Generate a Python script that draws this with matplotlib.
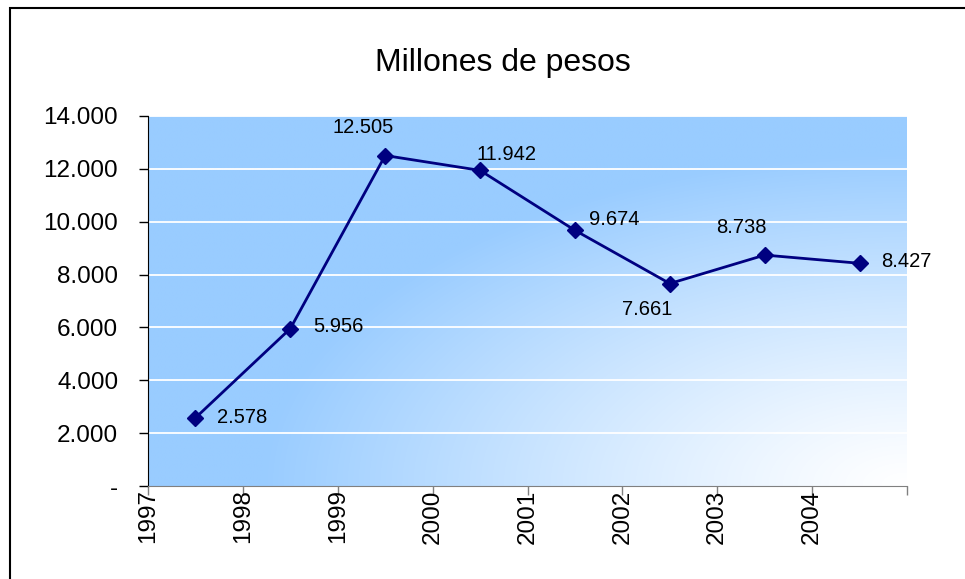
import numpy as np
import matplotlib.pyplot as plt
from matplotlib.patches import Rectangle
from matplotlib.colors import to_rgb

plt.rcParams['font.family'] = ['Liberation Sans', 'DejaVu Sans']

years = ['1997', '1998', '1999', '2000', '2001', '2002', '2003', '2004']
millones = [2578, 5956, 12505, 11942, 9674, 7661, 8738, 8427]
label_text = ['2.578', '5.956', '12.505', '11.942', '9.674', '7.661', '8.738', '8.427']
# label offsets in pixels (dx, dy) and horizontal alignment
label_pos = [(22, 0, 'left'), (23, 2, 'left'), (-22, 28, 'center'), (26, 16, 'center'),
             (39, 11, 'center'), (-23, -26, 'center'), (-23, 28, 'center'), (22, 2, 'left')]

fig = plt.figure(figsize=(9.65, 5.79), dpi=100)
ax = fig.add_axes([148 / 965, 1 - 486 / 579, 759 / 965, 370 / 579])

# background: light blue fading to white toward the lower right corner
nx, ny = 400, 200
gx, gy = np.meshgrid(np.linspace(0, 1, nx), np.linspace(0, 1, ny))
d = np.sqrt(((1 - gx) / 0.85) ** 2 + (gy / 0.9) ** 2)
t = np.clip(d, 0, 1) ** 1.2
blue = np.array(to_rgb('#99CCFF'))
img = (1 - t)[..., None] * np.ones(3) + t[..., None] * blue
ax.imshow(img, extent=(0, 1, 0, 1), origin='lower', transform=ax.transAxes,
          aspect='auto', zorder=0, interpolation='bilinear')

x = np.arange(len(years)) + 0.5
ax.set_xlim(0, len(years))
ax.set_ylim(0, 14000)

for yv in range(2000, 14001, 2000):
    ax.axhline(yv, color='white', lw=1.3, zorder=1)

ax.plot(x, millones, color='#000080', lw=2, marker='D', ms=8, zorder=3)

for xi, yi, s, (dx, dy, ha) in zip(x, millones, label_text, label_pos):
    ax.annotate(s, (xi, yi), xytext=(dx, dy), textcoords='offset pixels',
                ha=ha, va='center', fontsize=14.5, color='black', zorder=4)

ax.set_yticks(range(0, 14001, 2000))
ax.set_yticklabels(['-'] + [f'{v:,}'.replace(',', '.') for v in range(2000, 14001, 2000)])
ax.set_xticks(range(len(years) + 1))
ax.set_xticklabels(years + [''], rotation=90, va='top', ha='center')

ax.tick_params(axis='y', direction='out', length=6.5, width=1, labelsize=17.5, pad=15)
ax.tick_params(axis='x', direction='out', length=6.5, width=1, labelsize=17.5, pad=-4,
               color='#808080')

for s in ['top', 'right']:
    ax.spines[s].set_visible(False)
ax.spines['left'].set_color('black')
ax.spines['bottom'].set_color('#808080')
ax.spines['left'].set_zorder(5)
ax.spines['bottom'].set_zorder(5)

fig.text(503 / 965, 1 - 63 / 579, 'Millones de pesos', ha='center', va='center', fontsize=23)

# outer chart frame
fig.patches.append(Rectangle((10 / 965, -0.2), 1.2, 1.2 - 8 / 579, transform=fig.transFigure,
                             fill=False, edgecolor='black', lw=1.5))

fig.savefig('out.png', dpi=100)
